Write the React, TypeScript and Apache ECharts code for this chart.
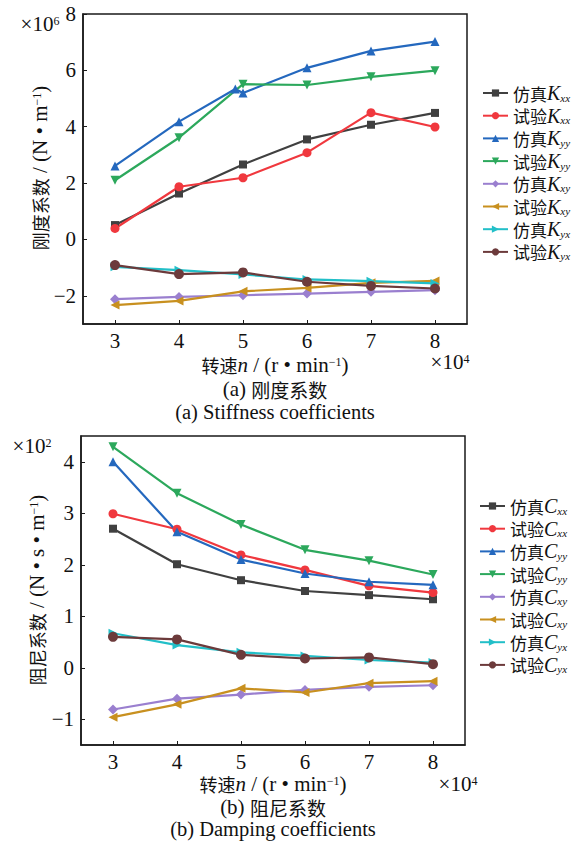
import React, { useEffect, useRef } from "react";
import * as echarts from "echarts";

// ---- data ----
const speeds = [3, 4, 5, 6, 7, 8];
const kyySimSpeeds = [3, 4, 4.88, 5, 6, 7, 8];

// stiffness (x10^6 N/m)
const kxxSim = [0.51, 1.63, 2.66, 3.55, 4.07, 4.49];
const kxxExp = [0.39, 1.87, 2.19, 3.08, 4.5, 3.99];
const kyySim = [2.61, 4.18, 5.34, 5.2, 6.09, 6.69, 7.02];
const kyyExp = [2.1, 3.61, 5.51, 5.48, 5.77, 5.99];
const kxySim = [-2.12, -2.04, -1.98, -1.92, -1.86, -1.8];
const kxyExp = [-2.33, -2.18, -1.84, -1.72, -1.54, -1.47];
const kyxSim = [-0.97, -1.09, -1.24, -1.42, -1.48, -1.56];
const kyxExp = [-0.91, -1.23, -1.17, -1.5, -1.65, -1.74];

// damping (x10^2 N*s/m)
const cxxSim = [2.7, 2.01, 1.7, 1.49, 1.41, 1.33];
const cxxExp = [2.99, 2.69, 2.19, 1.9, 1.59, 1.46];
const cyySim = [4.0, 2.64, 2.1, 1.83, 1.67, 1.61];
const cyyExp = [4.29, 3.39, 2.78, 2.29, 2.08, 1.81];
const cxySim = [-0.81, -0.6, -0.52, -0.43, -0.37, -0.34];
const cxyExp = [-0.96, -0.71, -0.4, -0.48, -0.3, -0.26];
const cyxSim = [0.67, 0.44, 0.3, 0.23, 0.15, 0.1];
const cyxExp = [0.6, 0.55, 0.25, 0.18, 0.2, 0.07];

const xTicks = [3, 4, 5, 6, 7, 8];
const kTicks = [-2, 0, 2, 4, 6, 8];
const cTicks = [-1, 0, 1, 2, 3, 4];

const kNames = ["仿真Kxx", "试验Kxx", "仿真Kyy", "试验Kyy", "仿真Kxy", "试验Kxy", "仿真Kyx", "试验Kyx"];
const cNames = ["仿真Cxx", "试验Cxx", "仿真Cyy", "试验Cyy", "仿真Cxy", "试验Cxy", "仿真Cyx", "试验Cyx"];

const SERIF = "'Liberation Serif', 'Times New Roman', serif";
const CJK = "'Noto Sans CJK SC', 'Noto Sans CJK JP', sans-serif";

const colors = ["#404040", "#f0383e", "#2468be", "#2ca85c", "#9a7fcf", "#c8901f", "#22bfc8", "#6c3a3b"];
const symbols: [string, number, number][] = [
  ["rect", 0, 8],
  ["circle", 0, 9],
  ["triangle", 0, 9],
  ["triangle", 180, 9],
  ["diamond", 0, 10],
  ["triangle", 90, 9],
  ["triangle", -90, 9],
  ["circle", 0, 10],
];

function pairs(xs: number[], ys: number[]) {
  return ys.map((y, i) => [xs[i], y]);
}

function mkSeries(name: string, idx: number, xs: number[], ys: number[], axis: number) {
  const [sym, rot, size] = symbols[idx];
  return {
    name,
    type: "line",
    xAxisIndex: axis,
    yAxisIndex: axis,
    data: pairs(xs, ys),
    symbol: sym,
    symbolRotate: rot,
    symbolSize: size,
    showSymbol: true,
    lineStyle: { width: 2.2, color: colors[idx] },
    itemStyle: { color: colors[idx] },
    emphasis: { disabled: true },
  };
}

const legendRich = {
  cn: { fontFamily: CJK, fontSize: 17, color: "#111", lineHeight: 20, verticalAlign: "middle" },
  it: { fontFamily: SERIF, fontStyle: "italic", fontSize: 20, color: "#111", lineHeight: 20, verticalAlign: "middle" },
  sub: { fontFamily: SERIF, fontStyle: "italic", fontSize: 11, color: "#111", lineHeight: 10, verticalAlign: "bottom" },
};

function legendFmt(name: string) {
  return `{cn|${name.slice(0, 2)}}{it|${name.slice(2, 3)}}{sub|${name.slice(3)}}`;
}

const textRich = {
  cn: { fontFamily: CJK, fontSize: 18, fill: "#111", lineHeight: 18, verticalAlign: "middle" },
  it: { fontFamily: SERIF, fontStyle: "italic", fontSize: 21, fill: "#111", lineHeight: 18, verticalAlign: "middle" },
  r: { fontFamily: SERIF, fontSize: 21, fill: "#111", lineHeight: 18, verticalAlign: "middle" },
  cap: { fontFamily: SERIF, fontSize: 20.5, fill: "#111", lineHeight: 16, verticalAlign: "middle" },
  sup: { fontFamily: SERIF, fontSize: 12, fill: "#111", lineHeight: 10, verticalAlign: "top" },
  ccn: { fontFamily: CJK, fontSize: 19, fill: "#111", lineHeight: 18, verticalAlign: "middle" },
};

function txt(text: string, x: number, y: number, rotation = 0) {
  return {
    type: "text",
    x,
    y,
    rotation,
    style: { text, rich: textRich, align: "center", verticalAlign: "middle" },
  };
}

function xAxisCfg(gridIndex: number) {
  return {
    type: "value",
    gridIndex,
    min: 2.5,
    max: 8.5,
    axisLine: { show: true, onZero: false, lineStyle: { color: "#1a1a1a", width: 1.5 } },
    axisTick: { show: true, inside: true, length: 4, customValues: xTicks, lineStyle: { color: "#1a1a1a" } },
    axisLabel: { customValues: xTicks, fontFamily: SERIF, fontSize: 21, lineHeight: 17, color: "#111", margin: 8 },
    splitLine: { show: false },
  };
}

function yAxisCfg(gridIndex: number, min: number, max: number, ticks: number[]) {
  return {
    type: "value",
    gridIndex,
    min,
    max,
    axisLine: { show: true, onZero: false, lineStyle: { color: "#1a1a1a", width: 1.5 } },
    axisTick: { show: true, inside: true, length: 4, customValues: ticks, lineStyle: { color: "#1a1a1a" } },
    axisLabel: {
      customValues: ticks,
      fontFamily: SERIF,
      fontSize: 21,
      lineHeight: 17,
      color: "#111",
      margin: 7,
      formatter: (v: number) => (v < 0 ? "\u2212" + Math.abs(v) : String(v)),
    },
    splitLine: { show: false },
  };
}

export default function App() {
  const ref = useRef<HTMLDivElement>(null);
  useEffect(() => {
    if (!ref.current) return;
    const chart = echarts.init(ref.current, null, { renderer: "svg" });
    const kData = [
      [speeds, kxxSim],
      [speeds, kxxExp],
      [kyySimSpeeds, kyySim],
      [speeds, kyyExp],
      [speeds, kxySim],
      [speeds, kxyExp],
      [speeds, kyxSim],
      [speeds, kyxExp],
    ];
    const cData = [
      [speeds, cxxSim],
      [speeds, cxxExp],
      [speeds, cyySim],
      [speeds, cyyExp],
      [speeds, cxySim],
      [speeds, cxyExp],
      [speeds, cyxSim],
      [speeds, cyxExp],
    ];
    const series = [
      ...kNames.map((n, i) => mkSeries(n, i, kData[i][0], kData[i][1], 0)),
      ...cNames.map((n, i) => mkSeries(n, i, cData[i][0], cData[i][1], 1)),
    ];
    chart.setOption({
      animation: false,
      backgroundColor: "#fff",
      grid: [
        { left: 83, top: 14, width: 384, height: 310, show: true, borderColor: "#1a1a1a", borderWidth: 1.5 },
        { left: 81, top: 436, width: 384, height: 309, show: true, borderColor: "#1a1a1a", borderWidth: 1.5 },
      ],
      xAxis: [xAxisCfg(0), xAxisCfg(1)],
      yAxis: [yAxisCfg(0, -3, 8, kTicks), yAxisCfg(1, -1.5, 4.5, cTicks)],
      legend: [
        {
          data: kNames,
          orient: "vertical",
          left: 482,
          top: 83,
          padding: 0,
          itemWidth: 25,
          itemHeight: 9,
          itemGap: 2.7,
          formatter: legendFmt,
          textStyle: { rich: legendRich },
          selectedMode: false,
        },
        {
          data: cNames,
          orient: "vertical",
          left: 479,
          top: 496,
          padding: 0,
          itemWidth: 25,
          itemHeight: 9,
          itemGap: 2.7,
          formatter: legendFmt,
          textStyle: { rich: legendRich },
          selectedMode: false,
        },
      ],
      graphic: [
        txt("{r|×10}{sup|6}", 40, 24),
        txt("{r|×10}{sup|4}", 450, 362),
        txt("{cn|转速}{it|n}{r| / (r • min}{sup|−1}{r|)}", 275, 365),
        txt("{cn|刚度系数}{r| / (N • m}{sup|−1}{r|)}", 40, 168, Math.PI / 2),
        txt("{r|(a) }{ccn|刚度系数}", 275, 389),
        txt("{cap|(a) Stiffness coefficients}", 275, 412),
        txt("{r|×10}{sup|2}", 32, 446),
        txt("{r|×10}{sup|4}", 458, 784),
        txt("{cn|转速}{it|n}{r| / (r • min}{sup|−1}{r|)}", 273, 784),
        txt("{cn|阻尼系数}{r| / (N • s • m}{sup|−1}{r|)}", 37, 590, Math.PI / 2),
        txt("{r|(b) }{ccn|阻尼系数}", 273, 807),
        txt("{cap|(b) Damping coefficients}", 273, 829),
      ],
      series,
    });
    return () => chart.dispose();
  }, []);
  return <div ref={ref} style={{ position: "absolute", left: 0, top: 0, width: 577, height: 841 }} />;
}
